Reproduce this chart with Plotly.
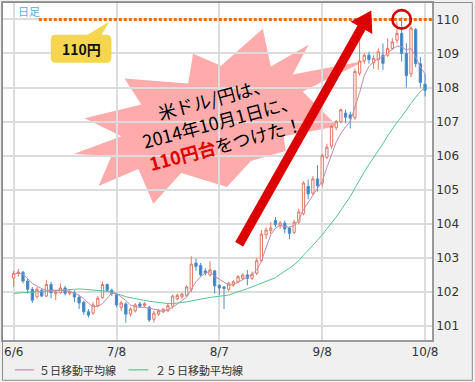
import plotly.graph_objects as go

# ---------------- data ----------------
dates = ['6/6', '6/9', '6/10', '6/11', '6/12', '6/13', '6/16', '6/17', '6/18', '6/19', '6/20',
         '6/23', '6/24', '6/25', '6/26', '6/27', '6/30', '7/1', '7/2', '7/3', '7/4', '7/7', '7/8',
         '7/9', '7/10', '7/11', '7/14', '7/15', '7/16', '7/17', '7/18', '7/21', '7/22', '7/23',
         '7/24', '7/25', '7/28', '7/29', '7/30', '7/31', '8/1', '8/4', '8/5', '8/6', '8/7', '8/8',
         '8/11', '8/12', '8/13', '8/14', '8/15', '8/18', '8/19', '8/20', '8/21', '8/22', '8/25',
         '8/26', '8/27', '8/28', '8/29', '9/1', '9/2', '9/3', '9/4', '9/5', '9/8', '9/9', '9/10',
         '9/11', '9/12', '9/15', '9/16', '9/17', '9/18', '9/19', '9/22', '9/23', '9/24', '9/25',
         '9/26', '9/29', '9/30', '10/1', '10/2', '10/3', '10/6', '10/7', '10/8']

open_ = [102.41, 102.55, 102.58, 102.32, 102.08, 101.86, 102.05, 101.88, 102.22, 101.95, 101.98,
         102.12, 101.96, 101.98, 101.85, 101.70, 101.42, 101.38, 101.60, 101.84, 102.22, 102.05,
         101.92, 101.55, 101.65, 101.35, 101.45, 101.65, 101.60, 101.55, 101.20, 101.35, 101.42,
         101.45, 101.58, 101.80, 101.86, 101.90, 102.08, 102.85, 102.78, 102.62, 102.50, 102.62,
         102.20, 102.15, 102.08, 102.20, 102.30, 102.40, 102.50, 102.40, 102.55, 102.92, 103.68,
         103.80, 104.10, 103.95, 104.02, 103.88, 103.75, 104.05, 104.30, 105.10, 104.90, 105.32,
         105.20, 105.95, 106.28, 106.82, 107.00, 107.25, 107.20, 107.12, 108.42, 108.78, 108.95,
         108.72, 108.81, 108.95, 108.95, 109.15, 109.39, 109.59, 109.00, 108.40, 109.70, 108.70,
         108.10]
high = [102.62, 102.68, 102.62, 102.40, 102.15, 102.15, 102.10, 102.35, 102.30, 102.05, 102.25,
        102.18, 102.08, 102.05, 101.92, 101.75, 101.50, 101.70, 101.88, 102.30, 102.25, 102.10,
        101.98, 101.75, 101.70, 101.55, 101.68, 101.72, 101.70, 101.60, 101.45, 101.50, 101.52,
        101.65, 101.92, 101.95, 101.98, 102.20, 103.05, 102.98, 102.85, 102.70, 102.90, 102.65,
        102.22, 102.18, 102.30, 102.35, 102.50, 102.55, 102.65, 102.60, 103.00, 103.82, 103.90,
        104.05, 104.20, 104.08, 104.10, 103.92, 104.12, 104.45, 105.25, 105.30, 105.40, 105.72,
        106.05, 106.35, 106.90, 107.05, 107.38, 107.35, 107.29, 108.55, 109.44, 109.00, 109.05,
        108.95, 109.15, 109.29, 109.44, 109.45, 109.93, 110.07, 109.30, 109.80, 109.75, 108.90,
        108.40]
low = [102.15, 102.45, 102.25, 101.95, 101.68, 101.80, 101.85, 101.85, 101.82, 101.76, 101.95,
       101.90, 101.90, 101.70, 101.50, 101.33, 101.25, 101.33, 101.55, 101.80, 102.00, 101.88,
       101.55, 101.45, 101.10, 101.28, 101.40, 101.55, 101.55, 101.12, 101.10, 101.30, 101.38,
       101.42, 101.52, 101.75, 101.80, 101.85, 102.00, 102.62, 102.45, 102.48, 102.45, 101.95,
       101.92, 101.50, 102.02, 102.15, 102.25, 102.35, 102.20, 102.35, 102.50, 102.88, 103.55,
       103.70, 103.90, 103.85, 103.72, 103.55, 103.70, 104.00, 104.25, 104.72, 104.85, 104.95,
       105.10, 105.90, 106.20, 106.75, 106.95, 106.95, 106.80, 107.05, 108.35, 108.70, 108.70,
       108.55, 108.52, 108.52, 108.90, 109.10, 109.30, 108.76, 108.00, 108.30, 108.60, 108.00,
       107.74]
close = [102.55, 102.58, 102.32, 102.08, 101.76, 102.08, 101.88, 102.22, 101.98, 102.00, 102.12,
         101.96, 102.02, 101.85, 101.68, 101.42, 101.32, 101.62, 101.82, 102.22, 102.05, 101.95,
         101.62, 101.68, 101.35, 101.50, 101.62, 101.58, 101.66, 101.18, 101.38, 101.45, 101.50,
         101.60, 101.88, 101.90, 101.94, 102.15, 102.82, 102.75, 102.50, 102.55, 102.65, 102.18,
         102.12, 102.10, 102.26, 102.30, 102.45, 102.50, 102.40, 102.52, 102.92, 103.70, 103.82,
         103.88, 103.98, 104.02, 103.85, 103.72, 104.05, 104.35, 105.20, 104.88, 105.32, 105.12,
         106.00, 106.25, 106.86, 107.00, 107.35, 107.13, 107.10, 108.47, 108.78, 108.95, 108.82,
         108.86, 109.05, 108.71, 109.15, 109.34, 109.59, 109.00, 108.35, 109.75, 108.70, 108.15,
         107.92]
ma5 = [102.54, 102.55, 102.52, 102.40, 102.25, 102.17, 102.10, 102.05, 102.04, 102.05, 102.05,
       102.03, 102.02, 101.96, 101.90, 101.81, 101.67, 101.57, 101.58, 101.66, 101.82, 101.97,
       101.96, 101.86, 101.75, 101.62, 101.57, 101.55, 101.55, 101.52, 101.50, 101.47, 101.42,
       101.48, 101.55, 101.65, 101.74, 101.85, 102.08, 102.30, 102.45, 102.56, 102.60, 102.45,
       102.38, 102.28, 102.20, 102.22, 102.28, 102.36, 102.44, 102.52, 102.65, 102.90, 103.30,
       103.68, 103.88, 103.95, 103.92, 103.90, 103.95, 104.12, 104.42, 104.62, 104.85, 105.05,
       105.25, 105.65, 106.05, 106.40, 106.65, 106.85, 107.00, 107.40, 107.85, 108.35, 108.62,
       108.76, 108.85, 108.90, 109.02, 109.12, 109.22, 109.20, 109.10, 109.15, 108.90, 108.60,
       108.40]
ma25 = [101.96, 101.97, 101.98, 101.99, 102.00, 102.02, 102.03, 102.04, 102.05, 102.06, 102.07,
        102.08, 102.09, 102.09, 102.09, 102.08, 102.07, 102.06, 102.04, 102.03, 102.02, 101.99,
        101.96, 101.91, 101.86, 101.83, 101.80, 101.78, 101.76, 101.73, 101.71, 101.69, 101.67,
        101.66, 101.66, 101.67, 101.69, 101.71, 101.74, 101.77, 101.80, 101.82, 101.84, 101.86,
        101.88, 101.89, 101.91, 101.96, 102.00, 102.05, 102.10, 102.15, 102.20, 102.25, 102.30,
        102.35, 102.42, 102.52, 102.60, 102.70, 102.80, 102.92, 103.08, 103.22, 103.35, 103.52,
        103.68, 103.85, 104.02, 104.20, 104.40, 104.60, 104.80, 105.05, 105.30, 105.52, 105.74,
        105.94, 106.15, 106.35, 106.58, 106.80, 106.98, 107.15, 107.35, 107.55, 107.72, 107.88,
        108.00]

x_tick_labels = ['6/6', '7/8', '8/7', '9/8', '10/8']
y_tick_values = [101, 102, 103, 104, 105, 106, 107, 108, 109, 110]
legend_labels = ['５日移動平均線', '２５日移動平均線']
peak_date = '10/1'
peak_level = 110

# ---------------- geometry helpers ----------------
W, H = 475, 382
L, R, T, B = 1, 432, 1, 340           # plot area in pixels
X_FIRST, X_LAST = 11.7, 425.0          # pixel of first / last trading day
Y_TOP_TICK, Y_BOT_TICK = 17.5, 326.0   # pixel of 110 / 101
n = len(dates)
ppd = (X_LAST - X_FIRST) / (n - 1)
ppu = (Y_BOT_TICK - Y_TOP_TICK) / 9.0
xr = [(L - X_FIRST) / ppd, (n - 1) + (R - X_LAST) / ppd]
yr = [101 - (B - Y_BOT_TICK) / ppu, 110 + (Y_TOP_TICK - T) / ppu]


def dx(px):
    return (px - X_FIRST) / ppd


def dy(py):
    return 110 - (py - Y_TOP_TICK) / ppu


def pxp(px):
    return (px - L) / (R - L)


def pyp(py):
    return (B - py) / (B - T)


def poly(pts):
    return 'M ' + ' L '.join(f'{dx(a):.4f},{dy(b):.4f}' for a, b in pts) + ' Z'


idx = list(range(n))
tick_idx = [dates.index(t) for t in x_tick_labels]

fig = go.Figure()
fig.add_trace(go.Candlestick(
    x=idx, open=open_, high=high, low=low, close=close,
    increasing=dict(line=dict(color='#e4775e', width=1), fillcolor='#ffffff'),
    decreasing=dict(line=dict(color='#4b8fcd', width=1), fillcolor='#3b80c2'),
    whiskerwidth=0, showlegend=False, hoverinfo='skip'))
fig.add_trace(go.Scatter(x=idx, y=ma25, mode='lines', name=legend_labels[1],
                         line=dict(color='#52c690', width=1), showlegend=False, hoverinfo='skip'))
fig.add_trace(go.Scatter(x=idx, y=ma5, mode='lines', name=legend_labels[0],
                         line=dict(color='#c78aad', width=1), showlegend=False, hoverinfo='skip'))

shapes = []
# starburst
star = [(262, 27), (270, 65), (308, 43), (292, 73), (365, 59), (302, 90), (337, 125), (283, 135),
        (285, 150), (250, 160), (226, 186), (180, 172), (152, 203), (137, 168), (97, 185),
        (110, 155), (72, 153), (120, 135), (83, 117), (140, 103), (123, 77), (187, 82),
        (192, 52), (220, 64)]
shapes.append(dict(type='path', path=poly(star), xref='x', yref='y',
                   fillcolor='#ffabab', line=dict(width=0), layer='below'))
# orange dotted line at 110
shapes.append(dict(type='line', xref='x', yref='y', x0=dx(37), x1=xr[1], y0=peak_level, y1=peak_level,
                   line=dict(color='#ff6a00', width=3, dash='3px,2px'), layer='above'))
# yellow callout
x0, x1, y0, y1, r = 49, 110, 33, 61, 5
cp = (f'M {dx(x0 + r):.4f},{dy(y0):.4f} L {dx(86):.4f},{dy(y0):.4f} L {dx(108):.4f},{dy(19.5):.4f} '
      f'L {dx(100):.4f},{dy(y0):.4f} L {dx(x1 - r):.4f},{dy(y0):.4f} '
      f'Q {dx(x1):.4f},{dy(y0):.4f} {dx(x1):.4f},{dy(y0 + r):.4f} '
      f'L {dx(x1):.4f},{dy(y1 - r):.4f} Q {dx(x1):.4f},{dy(y1):.4f} {dx(x1 - r):.4f},{dy(y1):.4f} '
      f'L {dx(x0 + r):.4f},{dy(y1):.4f} Q {dx(x0):.4f},{dy(y1):.4f} {dx(x0):.4f},{dy(y1 - r):.4f} '
      f'L {dx(x0):.4f},{dy(y0 + r):.4f} Q {dx(x0):.4f},{dy(y0):.4f} {dx(x0 + r):.4f},{dy(y0):.4f} Z')
shapes.append(dict(type='path', path=cp, xref='x', yref='y', fillcolor='#f6d64e',
                   line=dict(width=0), layer='above'))
# red arrow
bx, by, tx, ty = 238.3, 243.8, 371.0, 8.5
ln = ((tx - bx) ** 2 + (ty - by) ** 2) ** 0.5
ux, uy = (tx - bx) / ln, (ty - by) / ln
nx, ny = -uy, ux
hl, hw, sw = 20, 12.5, 4.6
hbx, hby = tx - hl * ux, ty - hl * uy
arrow = [(bx + sw * nx, by + sw * ny), (hbx + sw * nx, hby + sw * ny), (hbx + hw * nx, hby + hw * ny),
         (tx, ty), (hbx - hw * nx, hby - hw * ny), (hbx - sw * nx, hby - sw * ny),
         (bx - sw * nx, by - sw * ny)]
shapes.append(dict(type='path', path=poly(arrow), xref='x', yref='y', fillcolor='#dc0000',
                   line=dict(width=0), layer='above'))
# red circle at the peak
pk = dates.index(peak_date)
rx, ry = 9.3 / ppd, 9.3 / ppu
shapes.append(dict(type='circle', xref='x', yref='y', x0=pk - rx, x1=pk + rx,
                   y0=peak_level - ry, y1=peak_level + ry,
                   line=dict(color='#d40000', width=2.6), layer='above'))
# manual legend lines
shapes.append(dict(type='line', xref='paper', yref='paper', x0=pxp(13), x1=pxp(32), y0=pyp(370), y1=pyp(370),
                   line=dict(color='#c78aad', width=1.2)))
shapes.append(dict(type='line', xref='paper', yref='paper', x0=pxp(127), x1=pxp(147), y0=pyp(370), y1=pyp(370),
                   line=dict(color='#52c690', width=1.2)))
# outer frame
shapes.append(dict(type='rect', xref='paper', yref='paper', x0=pxp(0.5), x1=pxp(472.5), y0=pyp(380.5),
                   y1=pyp(0.5), line=dict(color='#8c8c8c', width=1), fillcolor='rgba(0,0,0,0)'))

jp = 'Noto Sans CJK JP'
annotations = [
    dict(x=pxp(14), y=pyp(9.5), xref='paper', yref='paper', text='日足', showarrow=False,
         xanchor='left', yanchor='middle', font=dict(family=jp, size=11, color='#52b3e8')),
    dict(x=dx(80), y=dy(47.5), xref='x', yref='y', text='<b>110円</b>', showarrow=False,
         font=dict(family=jp, size=14, color='#111111')),
    dict(x=dx(219), y=dy(119), xref='x', yref='y', showarrow=False, textangle=-15,
         text="米ドル/円は、<br>2014年10月1日に、<br><span style='color:#e00000'><b>110円台</b></span>をつけた！",
         font=dict(family=jp, size=18, color='#000000')),
    dict(x=pxp(35), y=pyp(370), xref='paper', yref='paper', text=legend_labels[0], showarrow=False,
         xanchor='left', yanchor='middle', font=dict(family=jp, size=11, color='#333333')),
    dict(x=pxp(152), y=pyp(370), xref='paper', yref='paper', text=legend_labels[1], showarrow=False,
         xanchor='left', yanchor='middle', font=dict(family=jp, size=11, color='#333333')),
]

grid = '#dcdcdc'
fig.update_layout(
    width=W, height=H, autosize=False,
    margin=dict(l=L, r=W - R, t=T, b=H - B, pad=0),
    paper_bgcolor='#f0f0f0', plot_bgcolor='#ffffff',
    showlegend=False, shapes=shapes, annotations=annotations,
    xaxis=dict(range=xr, tickvals=tick_idx, ticktext=x_tick_labels, showgrid=True, gridcolor=grid,
               gridwidth=1.5, zeroline=False, showline=True, linecolor='#9a9a9a', linewidth=1.5,
               mirror=True, ticks='', rangeslider=dict(visible=False),
               tickfont=dict(family='DejaVu Sans', size=12, color='#333333')),
    yaxis=dict(range=yr, side='right', tickvals=y_tick_values, showgrid=True, gridcolor=grid,
               gridwidth=1.5, zeroline=False, showline=True, linecolor='#9a9a9a', linewidth=1.5,
               mirror=True, ticks='', tickfont=dict(family='DejaVu Sans', size=12, color='#333333')),
)

fig.write_html('out.html', config={'displayModeBar': False},
               post_script="document.body.style.margin='0';document.body.style.overflow='hidden';")
